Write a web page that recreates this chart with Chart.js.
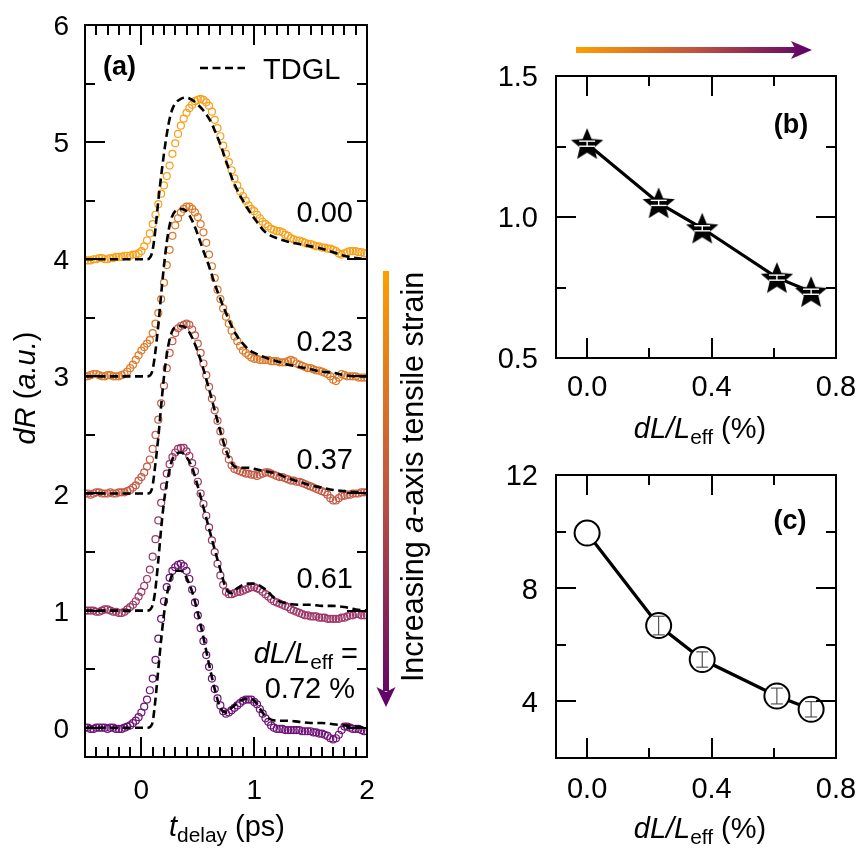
<!DOCTYPE html>
<html><head><meta charset="utf-8">
<script src="https://cdn.jsdelivr.net/npm/chart.js@4.4.0/dist/chart.umd.min.js"></script>
<style>
html,body{margin:0;padding:0;background:#fff;}
#wrap{position:relative;width:860px;height:860px;overflow:hidden;background:#fff;}
canvas{position:absolute;}
</style></head><body>
<div id="wrap">
<canvas id="ca" width="430" height="860" style="left:0;top:0;width:430px;height:860px"></canvas>
<canvas id="cb" width="430" height="450" style="left:430px;top:0;width:430px;height:450px"></canvas>
<canvas id="cc" width="430" height="410" style="left:430px;top:450px;width:430px;height:410px"></canvas>
</div>
<script>
// ---------------- DATA ----------------
const tDelay = [
-0.5,-0.475,-0.45,-0.425,-0.4,-0.375,-0.35,-0.325,-0.3,-0.275,
-0.25,-0.225,-0.2,-0.175,-0.15,-0.125,-0.1,-0.075,-0.05,-0.025,
0,0.025,0.05,0.075,0.1,0.125,0.15,0.175,0.2,0.225,
0.25,0.275,0.3,0.325,0.35,0.375,0.4,0.425,0.45,0.475,
0.5,0.525,0.55,0.575,0.6,0.625,0.65,0.675,0.7,0.725,
0.75,0.775,0.8,0.825,0.85,0.875,0.9,0.925,0.95,0.975,
1,1.025,1.05,1.075,1.1,1.125,1.15,1.175,1.2,1.225,
1.25,1.275,1.3,1.325,1.35,1.375,1.4,1.425,1.45,1.475,
1.5,1.525,1.55,1.575,1.6,1.625,1.65,1.675,1.7,1.725,
1.75,1.775,1.8,1.825,1.85,1.875,1.9,1.925,1.95,1.975,
2];
const dR000 = [
3.99,3.99,3.99,4.00,4.00,4.01,4.01,4.00,4.00,4.01,
4.01,4.02,4.02,4.02,4.03,4.03,4.03,4.04,4.04,4.05,
4.07,4.11,4.16,4.22,4.30,4.38,4.47,4.56,4.63,4.71,
4.80,4.90,4.99,5.07,5.14,5.20,5.25,5.29,5.32,5.35,
5.36,5.37,5.36,5.34,5.31,5.26,5.19,5.12,5.05,4.97,
4.90,4.83,4.76,4.69,4.63,4.58,4.54,4.50,4.46,4.43,
4.41,4.38,4.35,4.32,4.30,4.28,4.26,4.25,4.24,4.24,
4.23,4.21,4.20,4.18,4.17,4.16,4.16,4.15,4.14,4.13,
4.13,4.12,4.11,4.11,4.10,4.10,4.09,4.09,4.08,4.07,
4.05,4.04,4.05,4.06,4.07,4.07,4.07,4.06,4.06,4.05,
4.05];
const dR023 = [
3.00,3.00,3.01,3.02,3.02,3.01,3.00,3.00,3.01,3.01,
3.00,3.00,3.00,3.01,3.02,3.04,3.07,3.10,3.14,3.18,
3.22,3.25,3.28,3.31,3.37,3.45,3.54,3.66,3.80,3.95,
4.08,4.20,4.29,4.35,4.40,4.43,4.45,4.45,4.43,4.40,
4.36,4.30,4.23,4.14,4.04,3.94,3.84,3.74,3.66,3.58,
3.51,3.45,3.39,3.34,3.30,3.26,3.22,3.20,3.18,3.16,
3.15,3.15,3.14,3.14,3.14,3.14,3.13,3.13,3.13,3.12,
3.12,3.12,3.13,3.14,3.13,3.11,3.10,3.09,3.08,3.07,
3.07,3.06,3.05,3.05,3.04,3.03,3.02,3.00,2.97,2.96,
2.99,3.02,3.01,3.00,3.00,3.00,3.00,2.99,2.99,2.99,
2.99];
const dR037 = [
2.00,2.00,1.99,2.00,2.01,2.01,2.00,2.00,2.00,2.01,
2.00,2.00,2.01,2.01,2.01,2.02,2.03,2.05,2.07,2.11,
2.14,2.18,2.23,2.29,2.38,2.50,2.63,2.77,2.92,3.07,
3.20,3.30,3.37,3.41,3.43,3.44,3.45,3.44,3.40,3.35,
3.28,3.20,3.11,3.01,2.91,2.81,2.71,2.62,2.53,2.44,
2.36,2.29,2.24,2.21,2.20,2.19,2.18,2.17,2.17,2.16,
2.16,2.15,2.16,2.17,2.18,2.18,2.17,2.16,2.15,2.14,
2.14,2.13,2.12,2.11,2.11,2.10,2.10,2.09,2.08,2.07,
2.06,2.05,2.04,2.03,2.02,2.01,1.99,1.96,1.94,1.94,
1.96,1.98,1.98,1.99,1.99,2.00,2.00,2.00,2.01,2.01,
2.01];
const dR061 = [
1.00,1.00,1.00,1.00,0.99,0.99,1.00,1.01,1.01,1.00,
0.99,0.99,0.98,0.98,0.99,1.01,1.03,1.05,1.08,1.12,
1.16,1.21,1.27,1.35,1.46,1.61,1.77,1.92,2.06,2.17,
2.25,2.31,2.35,2.38,2.39,2.39,2.36,2.32,2.26,2.19,
2.10,2.00,1.91,1.81,1.71,1.60,1.50,1.40,1.30,1.22,
1.16,1.14,1.14,1.15,1.16,1.16,1.17,1.18,1.19,1.20,
1.20,1.19,1.18,1.16,1.14,1.12,1.10,1.08,1.07,1.06,
1.05,1.04,1.03,1.01,1.00,0.99,0.98,0.97,0.96,0.96,
0.95,0.95,0.95,0.94,0.94,0.94,0.93,0.93,0.93,0.93,
0.93,0.94,0.94,0.95,0.96,0.96,0.97,0.97,0.96,0.96,
0.96];
const dR072 = [
0.00,0.00,-0.01,-0.01,0.00,0.00,0.00,0.00,-0.01,0.00,
0.00,-0.01,-0.01,-0.01,0.00,0.01,0.02,0.04,0.06,0.09,
0.13,0.18,0.24,0.32,0.42,0.58,0.76,0.93,1.08,1.20,
1.28,1.34,1.37,1.39,1.40,1.38,1.34,1.27,1.18,1.07,
0.96,0.85,0.74,0.62,0.52,0.42,0.33,0.25,0.19,0.14,
0.12,0.13,0.15,0.17,0.19,0.21,0.23,0.24,0.24,0.24,
0.22,0.20,0.16,0.12,0.08,0.05,0.02,0.00,-0.01,-0.01,
-0.01,-0.02,-0.02,-0.02,-0.02,-0.02,-0.02,-0.03,-0.03,-0.03,
-0.03,-0.04,-0.04,-0.05,-0.05,-0.06,-0.07,-0.09,-0.10,-0.09,
-0.06,-0.02,0.01,0.01,0.00,-0.01,-0.01,-0.01,-0.02,-0.03,
-0.03];
const tTDGL = [-0.5,0.05,0.08,0.1,0.12,0.15,0.18,0.21,0.24,0.27,0.3,0.35,0.4,0.45,0.5,0.55,0.6,0.65,0.7,0.75,0.8,0.85,0.9,0.95,1.0,1.1,1.2,1.3,1.4,1.5,1.6,1.7,1.8,1.9,2.0];
const tdgl000 = [4.00,4.00,4.02,4.08,4.22,4.50,4.75,4.97,5.15,5.27,5.33,5.37,5.38,5.36,5.32,5.27,5.20,5.10,4.98,4.84,4.70,4.59,4.50,4.42,4.35,4.23,4.18,4.15,4.13,4.11,4.09,4.06,4.03,4.01,4.00];
const tdgl023 = [3.00,3.00,3.01,3.06,3.18,3.44,3.75,4.03,4.24,4.36,4.41,4.43,4.41,4.33,4.21,4.07,3.94,3.79,3.66,3.54,3.43,3.34,3.28,3.23,3.20,3.16,3.13,3.10,3.08,3.06,3.04,3.03,3.01,3.00,3.00];
const tdgl037 = [2.00,2.00,2.01,2.07,2.22,2.48,2.80,3.08,3.27,3.38,3.42,3.43,3.41,3.33,3.21,3.06,2.89,2.71,2.53,2.37,2.26,2.22,2.22,2.22,2.21,2.19,2.17,2.13,2.10,2.07,2.05,2.03,2.02,2.01,2.00];
const tdgl061 = [1.00,1.00,1.01,1.05,1.15,1.43,1.75,2.00,2.16,2.28,2.33,2.35,2.31,2.22,2.06,1.88,1.70,1.52,1.35,1.19,1.15,1.19,1.22,1.23,1.23,1.18,1.09,1.06,1.05,1.05,1.04,1.04,1.03,1.01,1.00];
const tdgl072 = [0.00,0.00,0.01,0.05,0.20,0.50,0.80,1.04,1.20,1.30,1.34,1.34,1.28,1.16,0.98,0.77,0.54,0.33,0.17,0.13,0.17,0.21,0.24,0.25,0.23,0.10,0.06,0.06,0.05,0.04,0.04,0.03,0.02,0.01,0.00];
const strainLabels = ['0.00','0.23','0.37','0.61','0.72'];
const strain = [0, 0.23, 0.37, 0.61, 0.72];
const eta0 = [1.26, 1.05, 0.96, 0.785, 0.735];
const eta0Err = [0.009, 0.009, 0.009, 0.009, 0.009];
const gammaTHz = [9.95, 6.68, 5.48, 4.19, 3.72];
const gammaErr = [0, 0.33, 0.27, 0.28, 0.27];
const xTicksA = [0, 1, 2];
const xMinorA = [-0.4,-0.3,-0.2,-0.1,0.1,0.2,0.3,0.4,0.5,0.6,0.7,0.8,0.9,1.1,1.2,1.3,1.4,1.5,1.6,1.7,1.8,1.9];
const yTicksA = [0, 1, 2, 3, 4, 5, 6];
const yMinorA = [0.5, 1.5, 2.5, 3.5, 4.5, 5.5];
const xTicksBC = [0, 0.4, 0.8];
const xMinorBC = [0.2, 0.6];
const yTicksB = [0.5, 1.0, 1.5];
const yMinorB = [0.75, 1.25];
const yTicksC = [4, 8, 12];
const yMinorC = [6, 10];

// ---------------- STYLE / HELPERS ----------------
const FF = '"Liberation Sans", Arial, Helvetica, sans-serif';
const seriesColors = ['#F7A11B', '#DC7A2B', '#C45B46', '#9C3767', '#6E1277'];
function setFont(ctx, size, it, b) { ctx.font = (it ? 'italic ' : '') + (b ? 'bold ' : '') + size + 'px ' + FF; }
function rich(ctx, segs, x, y, align, size) {
  const sub = size * 0.72;
  let total = 0; const ws = [];
  for (const s of segs) { setFont(ctx, s.sub ? sub : size, s.it, s.b); const w = ctx.measureText(s.t).width; ws.push(w); total += w; }
  let cx = align === 'center' ? x - total / 2 : (align === 'right' ? x - total : x);
  ctx.textAlign = 'left'; ctx.textBaseline = 'alphabetic'; ctx.fillStyle = '#000';
  segs.forEach((s, i) => { setFont(ctx, s.sub ? sub : size, s.it, s.b); ctx.fillText(s.t, cx, y + (s.sub ? size * 0.22 : 0)); cx += ws[i]; });
}
function richRot(ctx, segs, x, y, size) { ctx.save(); ctx.translate(x, y); ctx.rotate(-Math.PI / 2); rich(ctx, segs, 0, 0, 'center', size); ctx.restore(); }
function gradStops(g) { g.addColorStop(0, '#FF9E00'); g.addColorStop(0.5, '#C0553F'); g.addColorStop(1, '#5E006A'); }

function drawTicks(chart, cfg) {
  const ctx = chart.ctx, a = chart.chartArea, xs = chart.scales.x, ys = chart.scales.y;
  const L = Math.round(a.left), R = Math.round(a.right), T = Math.round(a.top), B = Math.round(a.bottom);
  ctx.save();
  ctx.globalCompositeOperation = 'source-over'; ctx.globalAlpha = 1;
  ctx.fillStyle = '#000';
  for (const v of cfg.xMajor) { const p = Math.round(xs.getPixelForValue(v)); ctx.fillRect(p - 1, B - 20, 2, 20); ctx.fillRect(p - 1, T, 2, 20); }
  for (const v of cfg.xMinor) { const p = Math.round(xs.getPixelForValue(v)); ctx.fillRect(p - 1, B - 10, 2, 10); ctx.fillRect(p - 1, T, 2, 10); }
  for (const v of cfg.yMajor) { const p = Math.round(ys.getPixelForValue(v)); ctx.fillRect(L, p - 1, 20, 2); ctx.fillRect(R - 20, p - 1, 20, 2); }
  for (const v of cfg.yMinor) { const p = Math.round(ys.getPixelForValue(v)); ctx.fillRect(L, p - 1, 10, 2); ctx.fillRect(R - 10, p - 1, 10, 2); }
  ctx.fillRect(L - 1, T - 1, R - L + 2, 2); ctx.fillRect(L - 1, B - 1, R - L + 2, 2);
  ctx.fillRect(L - 1, T - 1, 2, B - T + 2); ctx.fillRect(R - 1, T - 1, 2, B - T + 2);
  ctx.restore();
}
function drawTickLabels(chart, cfg) {
  const ctx = chart.ctx, a = chart.chartArea, xs = chart.scales.x, ys = chart.scales.y;
  ctx.save(); ctx.fillStyle = '#000';
  ctx.font = cfg.fs + 'px ' + FF; ctx.textBaseline = 'alphabetic';
  const cap = 0.358 * cfg.fs;
  ctx.textAlign = 'center';
  for (const v of cfg.xMajor) ctx.fillText(cfg.fmtX(v), xs.getPixelForValue(v), a.bottom + cfg.xLabOff + cap);
  ctx.textAlign = 'right';
  for (const v of cfg.yMajor) ctx.fillText(cfg.fmtY(v), a.left - cfg.yLabOff, ys.getPixelForValue(v) + cap);
  ctx.restore();
}
function axisCfg(o) {
  return { type: 'linear', position: o.pos, min: o.min, max: o.max,
    grid: { display: false, drawTicks: false }, border: { display: false },
    afterFit: s => { if (o.pos === 'left') s.width = o.size; else s.height = o.size; },
    ticks: { display: false } };
}
function baseOpts(pad, xs, ys) {
  return { responsive: false, animation: false, devicePixelRatio: 1, events: [],
    plugins: { legend: { display: false }, tooltip: { enabled: false } },
    layout: { padding: pad }, scales: { x: xs, y: ys } };
}
function drawErr(chart, errs, color, cap, lw) {
  const ctx = chart.ctx, xs = chart.scales.x, ys = chart.scales.y, d = chart.data.datasets[0].data;
  ctx.save(); ctx.fillStyle = color;
  d.forEach((p, i) => { if (!errs[i]) return; const px = xs.getPixelForValue(p.x), t = ys.getPixelForValue(p.y + errs[i]), b = ys.getPixelForValue(p.y - errs[i]);
    ctx.fillRect(px - lw / 2, t, lw, b - t); ctx.fillRect(px - cap, t - lw / 2, 2 * cap, lw); ctx.fillRect(px - cap, b - lw / 2, 2 * cap, lw); });
  ctx.restore();
}
function makePanel(id, cfg, extra) {
  return { id: id,
    afterDatasetsDraw(chart) { drawTicks(chart, cfg); },
    afterDraw(chart) { extra(chart); drawTickLabels(chart, cfg); drawTicks(chart, cfg); } };
}

// ---------------- PANEL (a) ----------------
const measured = [dR000, dR023, dR037, dR061, dR072];
const models = [tdgl000, tdgl023, tdgl037, tdgl061, tdgl072];
const dsA = [];
models.forEach((m) => dsA.push({ data: tTDGL.map((t, i) => ({ x: t, y: m[i] })), borderColor: '#000', borderWidth: 2.6,
  borderDash: [8, 4.5], pointRadius: 0, cubicInterpolationMode: 'monotone', fill: false, order: 0, clip: 0 }));
measured.forEach((s, k) => dsA.push({ data: tDelay.map((t, i) => ({ x: t, y: s[i] })), showLine: false, pointStyle: 'circle',
  pointRadius: 3.5, pointBorderWidth: 1.2, pointBackgroundColor: 'rgba(0,0,0,0)', pointBorderColor: seriesColors[k], order: 1, clip: 0 }));

const frameA = { xMajor: xTicksA, xMinor: xMinorA, yMajor: yTicksA, yMinor: yMinorA, fs: 28, xLabOff: 32, yLabOff: 16, fmtX: v => String(v), fmtY: v => String(v) };
const panelA = makePanel('panelA', frameA, chart => {
  const ctx = chart.ctx, a = chart.chartArea, ys = chart.scales.y;
  ctx.save();
  const lab = [[strainLabels[0], 4.32], [strainLabels[1], 3.22], [strainLabels[2], 2.21], [strainLabels[3], 1.19]];
  lab.forEach(([t, v]) => rich(ctx, [{ t: t }], a.right - 14, ys.getPixelForValue(v), 'right', 29));
  rich(ctx, [{ t: 'dL/L', it: true }, { t: 'eff', sub: true }, { t: ' =' }], a.right - 9, ys.getPixelForValue(0.555), 'right', 29);
  rich(ctx, [{ t: strainLabels[4] + ' %' }], a.right - 12, ys.getPixelForValue(0.25), 'right', 29);
  rich(ctx, [{ t: '(a)', b: true }], a.left + 18, a.top + 50, 'left', 27);
  ctx.strokeStyle = '#000'; ctx.lineWidth = 2.6; ctx.setLineDash([8, 4.5]);
  ctx.beginPath(); ctx.moveTo(a.left + 115, a.top + 43); ctx.lineTo(a.left + 160, a.top + 43); ctx.stroke(); ctx.setLineDash([]);
  rich(ctx, [{ t: 'TDGL' }], a.left + 178, a.top + 54, 'left', 29);
  rich(ctx, [{ t: 't', it: true }, { t: 'delay', sub: true }, { t: ' (ps)' }], 227, 836, 'center', 29);
  richRot(ctx, [{ t: 'dR', it: true }, { t: ' (' }, { t: 'a.u.', it: true }, { t: ')' }], 35, 388, 29);
  const x = 386, y0 = 271, y1 = 707;
  const g = ctx.createLinearGradient(0, y0, 0, y1); gradStops(g); ctx.fillStyle = g;
  ctx.fillRect(x - 3, y0, 6, y1 - 16 - y0);
  ctx.beginPath(); ctx.moveTo(x, y1); ctx.lineTo(x - 9.5, y1 - 20); ctx.lineTo(x, y1 - 15); ctx.lineTo(x + 9.5, y1 - 20); ctx.closePath(); ctx.fill();
  richRot(ctx, [{ t: 'Increasing ' }, { t: 'a', it: true }, { t: '-axis tensile strain' }], 423, 477, 30.5);
  ctx.restore();
});
new Chart(document.getElementById('ca'), {
  type: 'line', data: { datasets: dsA },
  options: baseOpts({ top: 25, right: 63, bottom: 0, left: 0 },
    axisCfg({ pos: 'bottom', min: -0.5, max: 2, size: 103 }),
    axisCfg({ pos: 'left', min: -0.25, max: 6, size: 85 })),
  plugins: [panelA]
});

// ---------------- PANEL (b) ----------------
const starImg = document.createElement('canvas'); starImg.width = 38; starImg.height = 38;
(function () { const c = starImg.getContext('2d'); c.fillStyle = '#000'; c.beginPath();
  for (let i = 0; i < 10; i++) { const r = i % 2 ? 7.6 : 17; const ang = -Math.PI / 2 + i * Math.PI / 5; const px = 19 + r * Math.cos(ang), py = 20.5 + r * Math.sin(ang); i ? c.lineTo(px, py) : c.moveTo(px, py); }
  c.closePath(); c.fill(); })();
const frameB = { xMajor: xTicksBC, xMinor: xMinorBC, yMajor: yTicksB, yMinor: yMinorB, fs: 29, xLabOff: 28, yLabOff: 18, fmtX: v => v.toFixed(1), fmtY: v => v.toFixed(1) };
const panelB = makePanel('panelB', frameB, chart => {
  drawErr(chart, eta0Err, '#fff', 8, 1.4);
  const ctx = chart.ctx; ctx.save();
  rich(ctx, [{ t: '(b)', b: true }], 361, 133, 'center', 27);
  rich(ctx, [{ t: 'dL/L', it: true }, { t: 'eff', sub: true }, { t: ' (%)' }], 270, 438, 'center', 29);
  richRot(ctx, [{ t: 'η', it: true }, { t: '0', sub: true }], 473, 216, 29);
  const x0 = 146, x1 = 382, y = 50;
  const g = ctx.createLinearGradient(x0, 0, x1, 0); gradStops(g); ctx.fillStyle = g;
  ctx.fillRect(x0, y - 3, x1 - x0 - 16, 6);
  ctx.beginPath(); ctx.moveTo(x1, y); ctx.lineTo(x1 - 21, y - 9); ctx.lineTo(x1 - 16, y); ctx.lineTo(x1 - 21, y + 9); ctx.closePath(); ctx.fill();
  ctx.restore();
});
new Chart(document.getElementById('cb'), {
  type: 'line',
  data: { datasets: [{ data: strain.map((s, i) => ({ x: s, y: eta0[i] })), borderColor: '#000', borderWidth: 3.2, pointStyle: starImg, pointRadius: 17, clip: false }] },
  options: baseOpts({ top: 76, right: 24, bottom: 0, left: 0 },
    axisCfg({ pos: 'bottom', min: -0.1, max: 0.8, size: 92 }),
    axisCfg({ pos: 'left', min: 0.5, max: 1.5, size: 126 })),
  plugins: [panelB]
});

// ---------------- PANEL (c) ----------------
const frameC = { xMajor: xTicksBC, xMinor: xMinorBC, yMajor: yTicksC, yMinor: yMinorC, fs: 29, xLabOff: 30, yLabOff: 18, fmtX: v => v.toFixed(1), fmtY: v => String(v) };
const panelC = makePanel('panelC', frameC, chart => {
  drawErr(chart, gammaErr, '#333', 6, 1);
  const ctx = chart.ctx; ctx.save();
  rich(ctx, [{ t: '(c)', b: true }], 360, 79, 'center', 27);
  rich(ctx, [{ t: 'dL/L', it: true }, { t: 'eff', sub: true }, { t: ' (%)' }], 270, 388, 'center', 29);
  richRot(ctx, [{ t: 'Γ (THz)' }], 486, 168, 29);
  ctx.restore();
});
new Chart(document.getElementById('cc'), {
  type: 'line',
  data: { datasets: [{ data: strain.map((s, i) => ({ x: s, y: gammaTHz[i] })), borderColor: '#000', borderWidth: 3.2, pointStyle: 'circle', pointRadius: 12.5,
    pointBorderWidth: 2, pointBackgroundColor: '#fff', pointBorderColor: '#000', clip: false }] },
  options: baseOpts({ top: 25, right: 24, bottom: 0, left: 0 },
    axisCfg({ pos: 'bottom', min: -0.1, max: 0.8, size: 102 }),
    axisCfg({ pos: 'left', min: 2, max: 12, size: 126 })),
  plugins: [panelC]
});
</script>
</body></html>
